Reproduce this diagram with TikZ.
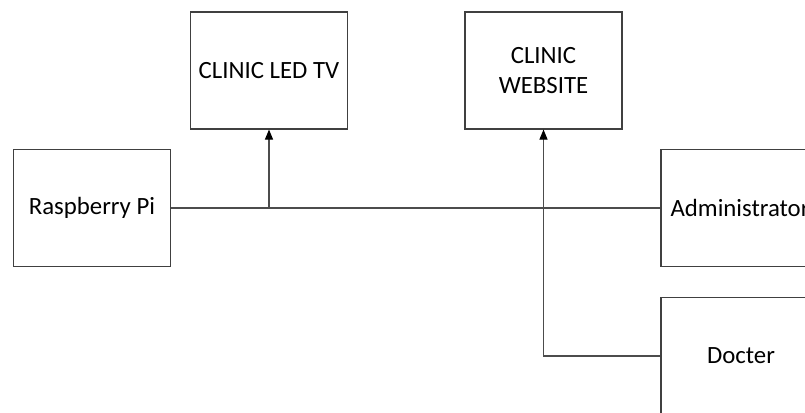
\documentclass[tikz,border=0pt]{standalone}
\usepackage{fontspec}
\setmainfont{Carlito}
\usetikzlibrary{arrows.meta}
\begin{document}
\begin{tikzpicture}[x=1pt,y=-1pt,
  blk/.style={draw=black!75, line width=1.1pt, minimum width=157pt, minimum height=117pt,
    inner sep=0pt, align=center, font=\fontsize{24.8}{30}\selectfont, text=black},
  conn/.style={draw=black!70, line width=1.1pt},
  arr/.style={conn, -{Triangle[length=10pt,width=8pt,fill=black,color=black]}}]
\useasboundingbox (0,0) rectangle (805,412);
\clip (0,0) rectangle (805,412);
\fill[white] (0,0) rectangle (805,412);
\node[blk] (tv)  at (269,70.5)  {CLINIC LED TV};
\node[blk] (web) at (543.5,70.5) {CLINIC\\WEBSITE};
\node[blk] (rpi) at (92,208) {Raspberry Pi};
\node[blk, minimum width=160pt] (admin) at (741,208) {\hspace*{-2pt}Administrator};
\node[blk, minimum width=160pt] (doc) at (741,356) {Docter};
\coordinate (tvj) at (tv.south |- rpi.east);
\draw[conn] (rpi.east) -- (admin.west);
\draw[arr] (tvj) -- (tv.south);
\draw[arr] (doc.west) -| (web.south);
\end{tikzpicture}
\end{document}
